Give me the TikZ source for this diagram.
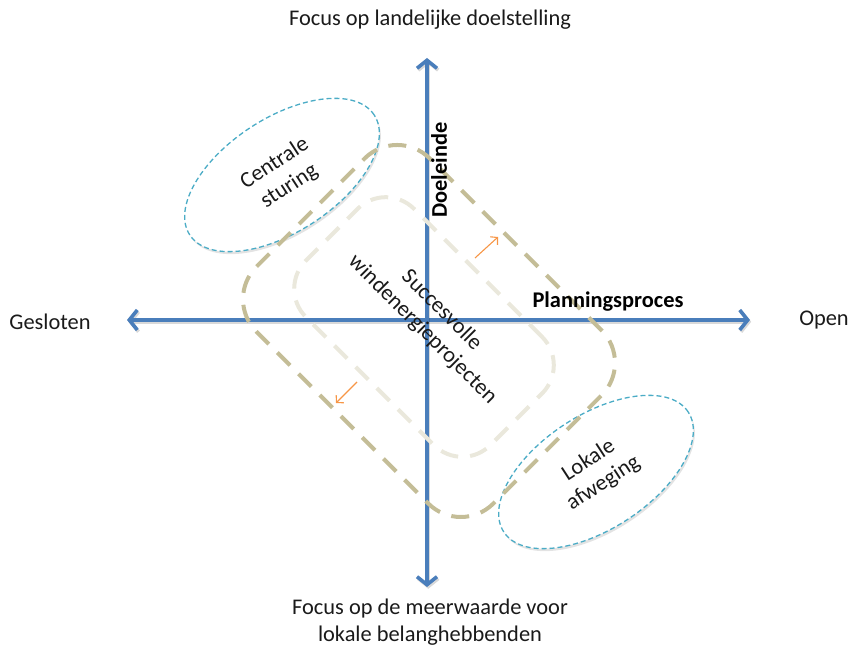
\documentclass[tikz,border=0pt]{standalone}
\usepackage{fontspec}
\setmainfont{Carlito}
\usetikzlibrary{arrows.meta,shadows,shapes.geometric}

\definecolor{axisblue}{HTML}{4A7EBB}
\definecolor{tanline}{HTML}{C4BD97}
\definecolor{tanlight}{HTML}{EAE8DC}
\definecolor{ovalblue}{HTML}{4BACC6}
\definecolor{arrorange}{HTML}{F79646}
\definecolor{txt}{HTML}{1A1A1A}

\tikzset{
  axis/.style={draw=axisblue, line width=3.6pt,
    {Straight Barb[length=8pt,width=20pt]}-{Straight Barb[length=8pt,width=20pt]},
    preaction={draw=black, opacity=0.15, line width=3.6pt,
      transform canvas={xshift=1.2pt,yshift=-1.8pt}}},
  label/.style={font=\fontsize{22.4}{27}\selectfont, text=txt, align=center, inner sep=0pt},
  boldlabel/.style={label, font=\fontsize{22.4}{27}\selectfont\bfseries, text=black},
  oval/.style={ellipse, draw=ovalblue, line width=1.3pt, dash pattern=on 5pt off 3pt,
    fill=white, minimum width=220pt, minimum height=114pt, inner sep=0pt, rotate=33,
    drop shadow={opacity=0.22, shadow xshift=1.5pt, shadow yshift=-2.5pt}},
  outerbox/.style={rectangle, rounded corners=46pt, draw=tanline, line width=4pt,
    dash pattern=on 18pt off 12pt, minimum width=335pt, minimum height=245pt, rotate=-45},
  innerbox/.style={rectangle, rounded corners=40pt, draw=tanlight, line width=4pt,
    dash pattern=on 18pt off 12pt, minimum width=261pt, minimum height=153pt, rotate=-45},
  trend/.style={draw=arrorange, line width=1.1pt, -{Straight Barb[length=5pt,width=11pt]}}
}

\begin{document}
\begin{tikzpicture}[x=1pt,y=1pt]
  \useasboundingbox (0,0) rectangle (849,652);

  % ovals for the two steering styles
  \node[oval] (central) at (282,477) {};
  \node[oval] (local) at (596,180) {};

  % axes
  \coordinate (west) at (127,332);
  \coordinate (east) at (750,332);
  \coordinate (north) at (427,594);
  \coordinate (south) at (427,65);
  \draw[axis] (west) -- (east);
  \draw[axis] (south) -- (north);

  % dashed zones of successful projects
  \node[outerbox] (zone) at (429,321) {};
  \node[innerbox] (core) at (424,325) {};

  % drift arrows along the zone
  \coordinate (upA) at (475,394);
  \coordinate (upB) at (498,415);
  \coordinate (downA) at (357,270);
  \coordinate (downB) at (336,249);
  \draw[trend] (upA) -- (upB);
  \draw[trend] (downA) -- (downB);

  % texts
  \node[label] (top) at (430,632) {Focus op landelijke doelstelling};
  \node[label] (bottom) at (430,30) {Focus op de meerwaarde voor\\lokale belanghebbenden};
  \node[label] (closed) at (50,330) {Gesloten};
  \node[label] (open) at (824,332) {Open};
  \node[boldlabel] (planning) at (608,350) {Planningsproces};
  \node[boldlabel, rotate=90] (goal) at (439,482) {Doeleinde};
  \node[label, rotate=33] (centraltext) at (central.center) {Centrale\\sturing};
  \node[label, rotate=33] (localtext) at (local.center) {Lokale\\afweging};
  \node[label, rotate=-45] (success) at (432,332) {Succesvolle\\windenergieprojecten};
\end{tikzpicture}
\end{document}
